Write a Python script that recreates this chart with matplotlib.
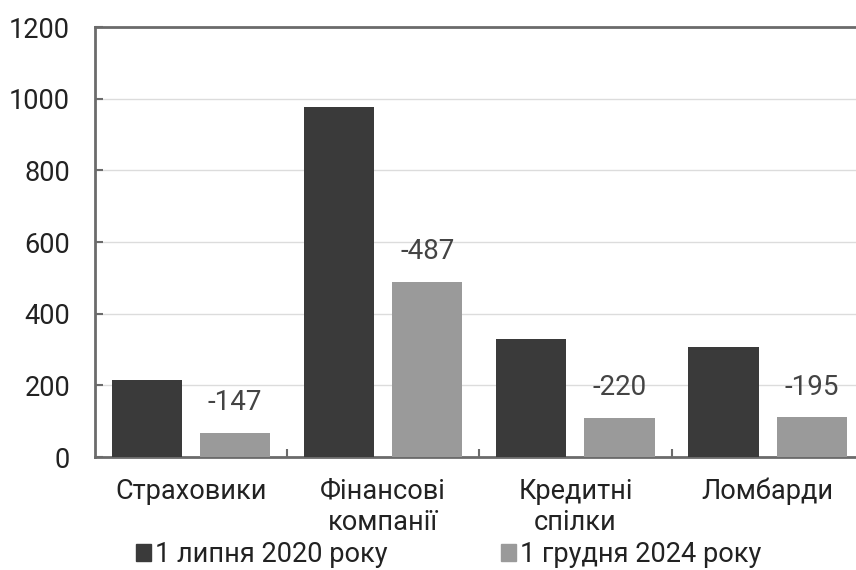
import matplotlib
matplotlib.use('Agg')
import matplotlib.patches as patches
import matplotlib.pyplot as plt
import numpy as np

categories = ['Страховики', 'Фінансові\nкомпанії', 'Кредитні\nспілки', 'Ломбарди']
july_2020 = [214, 976, 329, 306]
change = [-147, -487, -220, -195]
dec_2024 = [start + delta for start, delta in zip(july_2020, change)]
series_names = ['1 липня 2020 року', '1 грудня 2024 року']
y_ticks = [0, 200, 400, 600, 800, 1000, 1200]

DARK = '#3a3a3a'
LIGHT = '#9a9a9a'
FRAME = '#6b6b6b'

plt.rcParams['font.family'] = ['Roboto', 'DejaVu Sans']

fig = plt.figure(figsize=(8.56, 5.70), dpi=100)
ax = fig.add_axes([0.111, 0.198, 0.898, 0.7544])

x = np.arange(len(categories))
width = 0.365
offset = (width + 0.094) / 2
ax.bar(x - offset, july_2020, width, color=DARK, zorder=3)
bars = ax.bar(x + offset, dec_2024, width, color=LIGHT, zorder=3)

for bar, delta in zip(bars, change):
    ax.annotate(f'{delta}', xy=(bar.get_x() + bar.get_width() / 2, bar.get_height()),
                xytext=(0, 12), textcoords='offset points', ha='center', va='bottom',
                fontsize=20, color='#444444')

ax.set_xlim(-0.5, 3.5)
ax.set_ylim(0, 1200)
ax.set_yticks(y_ticks)
ax.set_yticklabels([str(t) for t in y_ticks], fontsize=19.5, color='#222222')
ax.set_xticks(x)
ax.set_xticklabels(categories, fontsize=19.5, color='#222222', linespacing=1.2)
ax.set_xticks(x[:-1] + 0.5, minor=True)
ax.tick_params(axis='x', which='major', length=0, pad=15)
ax.tick_params(axis='x', which='minor', direction='in', length=6, width=1.5, color=FRAME)
ax.tick_params(axis='y', direction='in', length=6, width=1.5, color=FRAME, pad=18)

ax.grid(axis='y', color='#dcdcdc', linewidth=1, zorder=0)
for side in ax.spines.values():
    side.set_color(FRAME)
    side.set_linewidth(2)

handles = [patches.Patch(color=DARK), patches.Patch(color=LIGHT)]
fig.legend(handles, series_names, loc='center', bbox_to_anchor=(0.524, 0.027), ncol=2,
           frameon=False, fontsize=19.5, handlelength=0.55, handleheight=0.55,
           handletextpad=0.15, columnspacing=4.2, labelcolor='#222222')

fig.savefig('out.png', dpi=100)
